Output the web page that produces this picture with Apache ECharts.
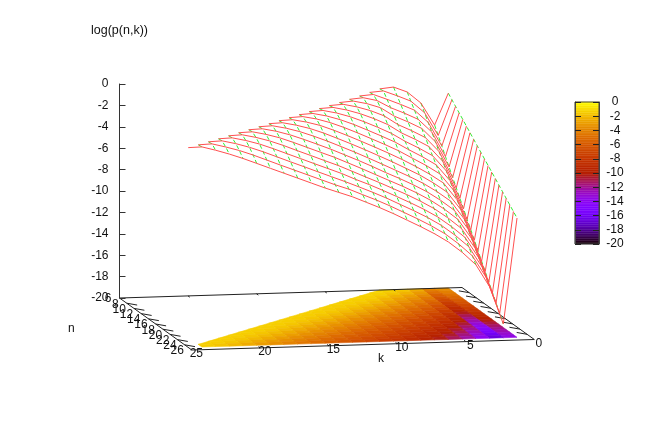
<!DOCTYPE html>
<html>
<head>
<meta charset="utf-8">
<style>html,body{margin:0;padding:0;background:#fff}#container{width:654px;height:436px}</style>
<script src="https://cdn.jsdelivr.net/npm/echarts@6/dist/echarts.min.js"></script>
</head>
<body>
<div id="container"></div>
<script>
// values, one array per n, index 0 is k=1
var logp6 = [-1.80,-4.74,-2.64,-1.57,-1.07,-1.20];
var logp7 = [-2.17,-5.47,-3.30,-2.18,-1.64,-1.15,-1.25];
var logp8 = [-2.54,-6.21,-3.96,-2.78,-2.21,-1.69,-1.20,-1.30];
var logp9 = [-2.91,-6.95,-4.62,-3.39,-2.78,-2.23,-1.52,-1.22,-1.33];
var logp10 = [-3.28,-7.68,-5.28,-4.00,-3.35,-2.78,-1.95,-1.53,-1.25,-1.35];
var logp11 = [-3.66,-8.42,-5.95,-4.61,-3.93,-3.32,-2.47,-1.94,-1.55,-1.27,-1.35];
var logp12 = [-4.03,-9.15,-6.61,-5.21,-4.50,-3.86,-3.04,-2.45,-1.95,-1.56,-1.28,-1.35];
var logp13 = [-4.40,-9.89,-7.27,-5.82,-5.07,-4.40,-3.62,-3.01,-2.45,-1.95,-1.56,-1.28,-1.35];
var logp14 = [-4.77,-10.62,-7.93,-6.43,-5.64,-4.94,-4.19,-3.58,-3.00,-2.43,-1.94,-1.55,-1.28,-1.35];
var logp15 = [-5.14,-11.36,-8.59,-7.03,-6.21,-5.49,-4.76,-4.14,-3.55,-2.97,-2.42,-1.93,-1.55,-1.29,-1.35];
var logp16 = [-5.51,-12.09,-9.25,-7.64,-6.78,-6.03,-5.34,-4.70,-4.10,-3.51,-2.94,-2.40,-1.91,-1.56,-1.30,-1.35];
var logp17 = [-5.88,-12.83,-9.91,-8.25,-7.35,-6.57,-5.91,-5.26,-4.65,-4.05,-3.47,-2.92,-2.38,-1.92,-1.57,-1.30,-1.35];
var logp18 = [-6.25,-13.56,-10.57,-8.85,-7.92,-7.11,-6.44,-5.82,-5.20,-4.59,-4.00,-3.44,-2.89,-2.39,-1.93,-1.57,-1.30,-1.35];
var logp19 = [-6.62,-14.30,-11.23,-9.46,-8.49,-7.65,-6.96,-6.33,-5.75,-5.12,-4.53,-3.97,-3.41,-2.90,-2.40,-1.94,-1.57,-1.30,-1.35];
var logp20 = [-6.99,-15.03,-11.89,-10.07,-9.06,-8.20,-7.48,-6.84,-6.25,-5.66,-5.06,-4.49,-3.92,-3.42,-2.92,-2.41,-1.94,-1.58,-1.30,-1.35];
var logp21 = [-7.37,-15.77,-12.56,-10.68,-9.64,-8.74,-8.01,-7.35,-6.75,-6.15,-5.59,-5.01,-4.44,-3.94,-3.43,-2.93,-2.41,-1.95,-1.58,-1.30,-1.35];
var logp22 = [-7.74,-16.50,-13.22,-11.28,-10.21,-9.28,-8.53,-7.87,-7.25,-6.64,-6.06,-5.53,-4.95,-4.45,-3.95,-3.44,-2.94,-2.43,-1.96,-1.59,-1.30,-1.35];
var logp23 = [-8.11,-17.24,-13.88,-11.89,-10.78,-9.82,-9.05,-8.38,-7.75,-7.12,-6.54,-6.00,-5.47,-4.97,-4.47,-3.96,-3.46,-2.95,-2.44,-1.98,-1.60,-1.30,-1.35];
var logp24 = [-8.48,-17.97,-14.54,-12.50,-11.35,-10.36,-9.58,-8.89,-8.25,-7.61,-7.02,-6.48,-5.93,-5.48,-4.98,-4.48,-3.98,-3.48,-2.97,-2.46,-2.00,-1.63,-1.30,-1.35];
var logp25 = [-8.85,-18.71,-15.20,-13.10,-11.90,-10.90,-10.10,-9.40,-8.75,-8.10,-7.50,-6.95,-6.40,-5.95,-5.50,-5.00,-4.50,-4.00,-3.50,-3.00,-2.50,-2.05,-1.65,-1.30,-1.33];
var logpRows = [logp6,logp7,logp8,logp9,logp10,logp11,logp12,logp13,logp14,logp15,logp16,logp17,logp18,logp19,logp20,logp21,logp22,logp23,logp24,logp25];
var nFirst = 6;
var kTicks = [0,5,10,15,20,25];
var nTicks = [6,8,10,12,14,16,18,20,22,24,26];
var zMin = -20, zMax = 0;

// view of the box: how far n and k push a point across the k/z plane
var kPerN = 0.264, zPerN = 0.243, zTiltK = 0.981;
function proj(k, n, z) {
	return [k - (n - nFirst) * kPerN, z + (1 - k / 25) * zTiltK - (n - nFirst) * zPerN];
}
function zOf(n, k) {
	return logpRows[n - nFirst][k - 1];
}
// gnuplot palette 7,5,15
function pm3dColor(v) {
	var g = Math.max(0, Math.min(1, (v - zMin) / (zMax - zMin)));
	var b = Math.max(0, Math.sin(2 * Math.PI * g));
	return 'rgb(' + Math.round(255 * Math.sqrt(g)) + ',' + Math.round(255 * g * g * g) + ',' + Math.round(255 * b) + ')';
}

var fontName = '"Liberation Sans", Arial, sans-serif';
var series = [];

//floor cells
var cells = [];
logpRows.forEach(function(row, i) {
	var n = nFirst + i;
	if(n == 25) return;
	for(var k = 1; k <= n; k++) {
		if(k < n) {
			cells.push([[k, n], [k + 1, n], [k + 1, n + 1], [k, n + 1]]);
		} else if(n < 24) {
			cells.push([[k, n], [k + 1, n + 1], [k, n + 1]]);
		}
	}
});
series.push({
	type: 'custom',
	coordinateSystem: 'cartesian2d',
	clip: false,
	z: 2,
	silent: true,
	data: cells.map(function(c, i) { return [i]; }),
	renderItem: function(params, api) {
		var cell = cells[params.dataIndex];
		var sum = 0;
		var pts = cell.map(function(p) {
			sum += zOf(p[1], p[0]);
			return api.coord(proj(p[0], p[1], zMin));
		});
		var col = pm3dColor(sum / cell.length);
		return {
			type: 'polygon',
			shape: { points: pts },
			style: { fill: col, stroke: col, lineWidth: 0.6 }
		};
	}
});

//box edges and ticks on the floor
var floorSegs = [
	[25, 6, 25, 26], [25, 26, 0, 26], [0, 26, 0, 6], [0, 6, 25, 6]
];
nTicks.forEach(function(n) {
	if(n > nFirst && n < 26) {
		floorSegs.push([25, n, 24.45, n + 0.8]);
		floorSegs.push([0, n, 0.55, n - 0.8]);
	}
});
kTicks.forEach(function(k) {
	if(k > 0 && k < 25) {
		floorSegs.push([k, 26, k, 25.5]);
		floorSegs.push([k, 6, k, 6.5]);
	}
});
series.push({
	type: 'custom',
	coordinateSystem: 'cartesian2d',
	clip: false,
	z: 3,
	silent: true,
	data: floorSegs.map(function(s, i) { return [i]; }),
	renderItem: function(params, api) {
		var s = floorSegs[params.dataIndex];
		var a = api.coord(proj(s[0], s[1], zMin));
		var b = api.coord(proj(s[2], s[3], zMin));
		return {
			type: 'line',
			shape: { x1: a[0], y1: a[1], x2: b[0], y2: b[1] },
			style: { stroke: '#222', lineWidth: 1 }
		};
	}
});

//tick labels on the slanted axes
var slantLabels = [];
kTicks.forEach(function(k) {
	slantLabels.push({ text: String(k), at: [k, 26], dx: 4.5, dy: 4, align: 'center', va: 'middle' });
});
nTicks.forEach(function(n) {
	slantLabels.push({ text: String(n), at: [25, n], dx: -8, dy: 1, align: 'right', va: 'middle' });
});
series.push({
	type: 'custom',
	coordinateSystem: 'cartesian2d',
	clip: false,
	z: 6,
	silent: true,
	data: slantLabels.map(function(s, i) { return [i]; }),
	renderItem: function(params, api) {
		var l = slantLabels[params.dataIndex];
		var p = api.coord(proj(l.at[0], l.at[1], zMin));
		return {
			type: 'text',
			style: {
				text: l.text, x: p[0] + l.dx, y: p[1] + l.dy,
				align: l.align, verticalAlign: l.va,
				fill: '#111', fontSize: 12, fontFamily: fontName
			}
		};
	}
});

//surface wires: green k fixed, red n fixed
var wires = [];
for(var k = 1; k <= 25; k++) {
	var gline = [];
	for(var n = Math.max(k, nFirst); n <= 25; n++) {
		gline.push(proj(k, n, zOf(n, k)));
	}
	wires.push({ pts: gline, green: true });
}
logpRows.forEach(function(row, i) {
	var n = nFirst + i;
	wires.push({ pts: row.map(function(z, j) { return proj(j + 1, n, z); }), green: false });
});
series.push({
	type: 'custom',
	coordinateSystem: 'cartesian2d',
	clip: false,
	z: 5,
	silent: true,
	data: wires.map(function(w, i) { return [i]; }),
	renderItem: function(params, api) {
		var w = wires[params.dataIndex];
		return {
			type: 'polyline',
			shape: { points: w.pts.map(function(p) { return api.coord(p); }) },
			style: w.green
				? { fill: null, stroke: '#33f033', lineWidth: 1, lineDash: [4, 2.5] }
				: { fill: null, stroke: '#ff5050', lineWidth: 1 }
		};
	}
});

//colour box
var cbLevels = [];
for(var v = zMin; v < zMax; v += 0.25) cbLevels.push(v);
series.push({
	type: 'custom',
	xAxisIndex: 1,
	yAxisIndex: 1,
	coordinateSystem: 'cartesian2d',
	silent: true,
	z: 2,
	data: cbLevels.map(function(v) { return [0, v]; }),
	renderItem: function(params, api) {
		var v = api.value(1);
		var a = api.coord([0, v + 0.25]);
		var b = api.coord([1, v]);
		var col = pm3dColor(v + 0.125);
		return {
			type: 'rect',
			shape: { x: a[0], y: a[1], width: b[0] - a[0], height: b[1] - a[1] },
			style: { fill: col, stroke: col, lineWidth: 0.4 }
		};
	}
});

var option = {
	animation: false,
	backgroundColor: '#fff',
	textStyle: { fontFamily: fontName },
	grid: [{
		left: 119.5, top: 84, width: 342.5, height: 214
	}, {
		left: 575, top: 102, width: 24, height: 142, show: true,
		borderColor: '#444', borderWidth: 1, z: 4
	}],
	xAxis: [{
		type: 'value', min: 0, max: 25, inverse: true, show: false
	}, {
		gridIndex: 1, type: 'value', min: 0, max: 1, show: false
	}],
	yAxis: [{
		type: 'value', min: zMin, max: zMax, interval: 2, position: 'left', z: 6,
		axisLine: { show: true, onZero: false, lineStyle: { color: '#333' } },
		axisTick: { show: true, inside: true, length: 6, lineStyle: { color: '#333' } },
		axisLabel: { color: '#111', fontSize: 12, margin: 11, fontFamily: fontName, hideOverlap: false },
		splitLine: { show: false }
	}, {
		gridIndex: 1, type: 'value', min: zMin, max: zMax, interval: 2, position: 'right', z: 6,
		axisLine: { show: true, onZero: false, lineStyle: { color: '#444' } },
		axisTick: { show: true, inside: true, length: 6, lineStyle: { color: '#222' } },
		axisLabel: { color: '#111', fontSize: 12, margin: 16, align: 'center', fontFamily: fontName, hideOverlap: false },
		splitLine: { show: false }
	}, {
		gridIndex: 1, type: 'value', min: zMin, max: zMax, interval: 2, position: 'left', z: 6,
		axisLine: { show: true, onZero: false, lineStyle: { color: '#444' } },
		axisTick: { show: true, inside: true, length: 6, lineStyle: { color: '#222' } },
		axisLabel: { show: false },
		splitLine: { show: false }
	}],
	graphic: [
		{ type: 'text', left: 91, top: 24, z: 10, style: { text: 'log(p(n,k))', fill: '#111', fontSize: 12.5, fontFamily: fontName } },
		{ type: 'text', left: 68, top: 323, z: 10, style: { text: 'n', fill: '#111', fontSize: 12, fontFamily: fontName } },
		{ type: 'text', left: 378, top: 353, z: 10, style: { text: 'k', fill: '#111', fontSize: 12, fontFamily: fontName } }
	],
	series: series
};

var myChart = echarts.init(document.getElementById('container'), null, { renderer: 'canvas' });
myChart.setOption(option);
</script>
</body>
</html>
